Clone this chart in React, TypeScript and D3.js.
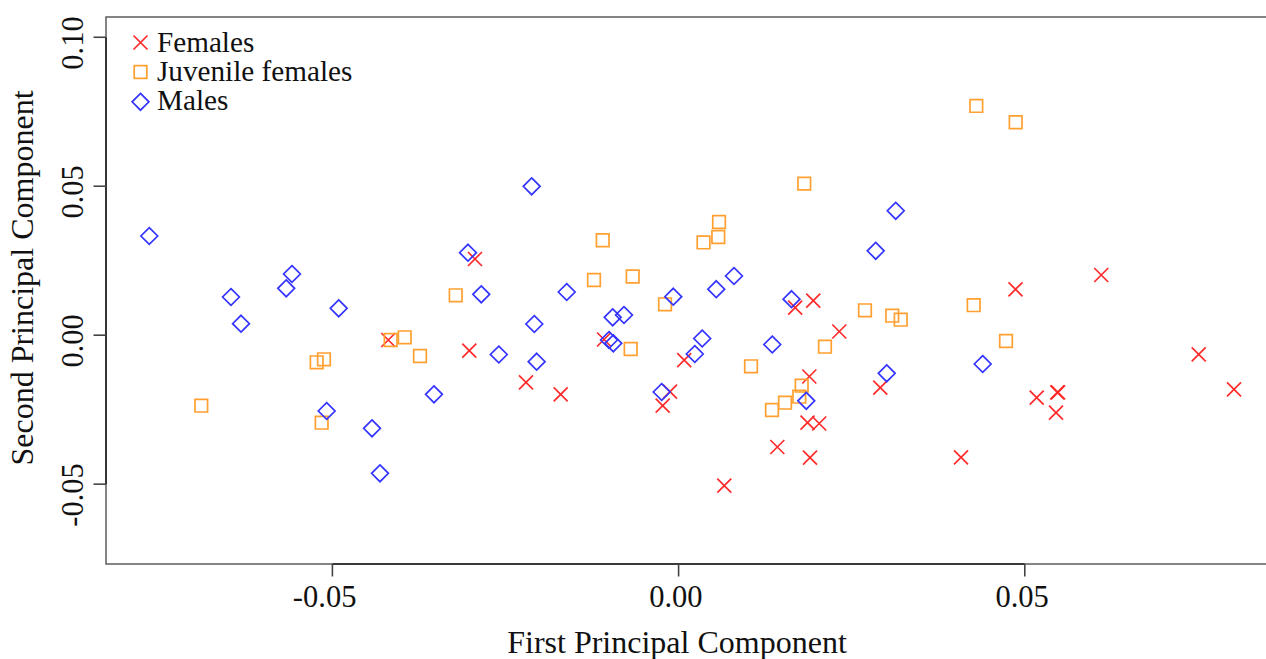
import React from "react";
import * as d3 from "d3";

// PCA scores: [First PC, Second PC]
const females: [number, number][] = [
  [-0.04193, -0.00161], [-0.03023, -0.0052], [-0.02941, 0.02558], [-0.02204, -0.01581],
  [-0.01703, -0.01984], [-0.01077, -0.00144], [-0.0023, -0.02367], [-0.00124, -0.01897],
  [0.00081, -0.00839], [0.0066, -0.05052], [0.01426, -0.03753], [0.01684, 0.00923],
  [0.01945, 0.01158], [0.01888, -0.01386], [0.01862, -0.02937], [0.02031, -0.02964],
  [0.01898, -0.04112], [0.02321, 0.00124], [0.02913, -0.01762], [0.04079, -0.04099],
  [0.04866, 0.01541], [0.05172, -0.02098], [0.0547, -0.01917], [0.0548, -0.0192],
  [0.05451, -0.02602], [0.06104, 0.02021], [0.07512, -0.00641], [0.08022, -0.01816],
];

const juvenileFemales: [number, number][] = [
  [-0.06894, -0.02367], [-0.05227, -0.0091], [-0.05122, -0.00809], [-0.05155, -0.02937],
  [-0.04158, -0.00161], [-0.03956, -0.0007], [-0.03735, -0.00698], [-0.03219, 0.01339],
  [-0.01222, 0.01853], [-0.01096, 0.03186], [-0.00663, 0.0197], [-0.00692, -0.00463],
  [-0.00196, 0.01037], [0.0036, 0.03112], [0.00573, 0.03296], [0.00584, 0.038],
  [0.01046, -0.01044], [0.01349, -0.02511], [0.01537, -0.02266], [0.01743, -0.02064],
  [0.01778, -0.01695], [0.01815, 0.05086], [0.02114, -0.00386], [0.02692, 0.00836],
  [0.03086, 0.00655], [0.03208, 0.0052], [0.04262, 0.01007], [0.043, 0.07694],
  [0.04729, -0.00195], [0.04869, 0.07147],
];

const males: [number, number][] = [
  [-0.07645, 0.0333], [-0.06465, 0.01282], [-0.0632, 0.00386], [-0.05667, 0.01574],
  [-0.05584, 0.02054], [-0.04909, 0.00903], [-0.05083, -0.02544], [-0.04428, -0.03125],
  [-0.04313, -0.04636], [-0.03533, -0.01984], [-0.03042, 0.02769], [-0.0285, 0.01373],
  [-0.02597, -0.00648], [-0.02122, 0.04998], [-0.02084, 0.00376], [-0.0205, -0.0089],
  [-0.01616, 0.0145], [-0.00952, 0.00601], [-0.00789, 0.00678], [-0.01005, -0.00161],
  [-0.00943, -0.00272], [-0.00244, -0.01907], [-0.00077, 0.01292], [0.00234, -0.00631],
  [0.00341, -0.00111], [0.00544, 0.01544], [0.008, 0.01987], [0.01353, -0.00312],
  [0.01631, 0.01208], [0.01844, -0.02202], [0.02847, 0.02833], [0.03006, -0.01279],
  [0.03136, 0.04176], [0.04392, -0.00967],
];

const xTicks = [-0.05, 0, 0.05];
const yTicks = [-0.05, 0, 0.05, 0.1];
const legendLabels = ["Females", "Juvenile females", "Males"];

const RED = "#ff2b2b";
const ORANGE = "#ffa030";
const BLUE = "#3434ff";

const FONT = "'Liberation Serif', 'Times New Roman', serif";

const xPath = (cx: number, cy: number, r = 7) =>
  `M${cx - r},${cy - r}L${cx + r},${cy + r}M${cx - r},${cy + r}L${cx + r},${cy - r}`;
const squarePath = (cx: number, cy: number, h = 6.3) =>
  `M${cx - h},${cy - h}H${cx + h}V${cy + h}H${cx - h}Z`;
const diamondPath = (cx: number, cy: number, r = 8.4) =>
  `M${cx},${cy - r}L${cx + r},${cy}L${cx},${cy + r}L${cx - r},${cy}Z`;

export default function App() {
  const left = 106, right = 1277.5, top = 17, bottom = 564;
  const x = d3.scaleLinear().domain([-0.0827, 0.0865]).range([left, right]);
  const y = d3.scaleLinear().domain([-0.0768, 0.1068]).range([bottom, top]);
  const f2 = d3.format(".2f");
  const fmt = (v: number) => f2(v).replace("\u2212", "-");
  const sw = 1.7;

  return (
    <svg
      width={1266}
      height={659}
      style={{ position: "absolute", left: 0, top: 0, background: "#fff" }}
      fontFamily={FONT}
    >
      <rect x={0} y={0} width={1266} height={659} fill="#fff" />
      {/* box */}
      <rect x={left} y={top} width={right - left} height={bottom - top} fill="none" stroke="#666" strokeWidth={1.6} />
      {/* x axis */}
      <line x1={x(xTicks[0])} x2={x(xTicks[xTicks.length - 1])} y1={bottom} y2={bottom} stroke="#222" strokeWidth={1.6} />
      {xTicks.map((t) => (
        <g key={"xt" + t}>
          <line x1={x(t)} x2={x(t)} y1={bottom} y2={bottom + 12.5} stroke="#444" strokeWidth={1.6} />
          <text x={x(t) + 24} y={607} textAnchor="end" fontSize={30.5} fill="#111">
            {fmt(t)}
          </text>
        </g>
      ))}
      {/* y axis */}
      <line x1={left} x2={left} y1={y(yTicks[0])} y2={y(yTicks[yTicks.length - 1])} stroke="#222" strokeWidth={1.6} />
      {yTicks.map((t) => (
        <g key={"yt" + t}>
          <line x1={left - 12.5} x2={left} y1={y(t)} y2={y(t)} stroke="#444" strokeWidth={1.6} />
          <text
            transform={`translate(83,${y(t) - 21}) rotate(-90)`}
            textAnchor="end"
            fontSize={30.5}
            fill="#111"
          >
            {fmt(t)}
          </text>
        </g>
      ))}
      {/* axis titles */}
      <text x={677} y={653} textAnchor="middle" fontSize={32} fill="#111">
        First Principal Component
      </text>
      <text transform="translate(33,278) rotate(-90)" textAnchor="middle" fontSize={32} fill="#111">
        Second Principal Component
      </text>

      {/* points */}
      <g fill="none" strokeWidth={sw}>
        {females.map(([a, b], i) => (
          <path key={"f" + i} d={xPath(x(a), y(b))} stroke={RED} />
        ))}
        {juvenileFemales.map(([a, b], i) => (
          <path key={"j" + i} d={squarePath(x(a), y(b))} stroke={ORANGE} />
        ))}
        {males.map(([a, b], i) => (
          <path key={"m" + i} d={diamondPath(x(a), y(b))} stroke={BLUE} />
        ))}
      </g>

      {/* legend */}
      <g fill="none" strokeWidth={sw}>
        <path d={xPath(140.5, 42.5)} stroke={RED} />
        <path d={squarePath(140.5, 72)} stroke={ORANGE} />
        <path d={diamondPath(140.5, 101.8)} stroke={BLUE} />
      </g>
      {legendLabels.map((l, i) => (
        <text key={l} x={157} y={51.5 + i * 29} fontSize={29.2} fill="#111">
          {l}
        </text>
      ))}
    </svg>
  );
}
